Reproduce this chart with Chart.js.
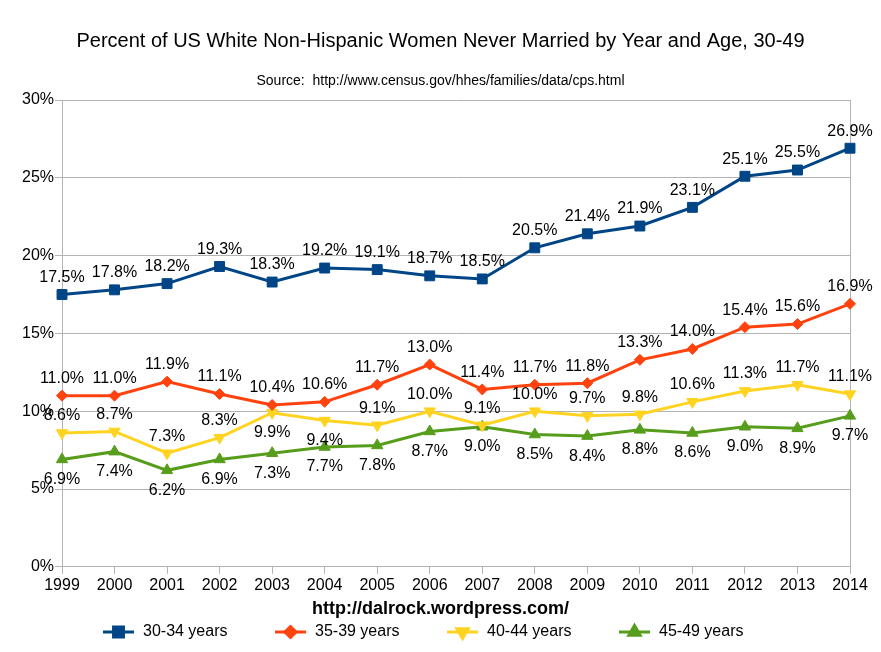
<!DOCTYPE html>
<html>
<head>
<meta charset="utf-8">
<script src="https://cdn.jsdelivr.net/npm/chart.js@4"></script>
<style>
html, body { margin: 0; padding: 0; background: #fff; }
</style>
</head>
<body>
<canvas id="myChart" width="881" height="652"></canvas>
<script>
// données (en %)
const years = ['1999', '2000', '2001', '2002', '2003', '2004', '2005', '2006',
               '2007', '2008', '2009', '2010', '2011', '2012', '2013', '2014'];
const age3034 = [17.5, 17.8, 18.2, 19.3, 18.3, 19.2, 19.1, 18.7, 18.5, 20.5, 21.4, 21.9, 23.1, 25.1, 25.5, 26.9];
const age3539 = [11.0, 11.0, 11.9, 11.1, 10.4, 10.6, 11.7, 13.0, 11.4, 11.7, 11.8, 13.3, 14.0, 15.4, 15.6, 16.9];
const age4044 = [8.6, 8.7, 7.3, 8.3, 9.9, 9.4, 9.1, 10.0, 9.1, 10.0, 9.7, 9.8, 10.6, 11.3, 11.7, 11.1];
const age4549 = [6.9, 7.4, 6.2, 6.9, 7.3, 7.7, 7.8, 8.7, 9.0, 8.5, 8.4, 8.8, 8.6, 9.0, 8.9, 9.7];
const seriesNames = ['30-34 years', '35-39 years', '40-44 years', '45-49 years'];

const FONT = '"Liberation Sans", Arial, sans-serif';
Chart.defaults.font.family = FONT;
Chart.defaults.color = '#000';

const colors = ['#004586', '#ff420e', '#ffd320', '#579d1c'];
const markers = [
    { pointStyle: 'rect', radius: 7, rotation: 0 },
    { pointStyle: 'rectRot', radius: 5.5, rotation: 0 },
    { pointStyle: 'triangle', radius: 6.5, rotation: 180 },
    { pointStyle: 'triangle', radius: 6.5, rotation: 0 }
];
// étiquettes placées sous le point (index des années)
const labelsBelow = [[], [], [4, 5], 'all'];
const gridColor = '#b3b3b3';

function makeDataset(i, values) {
    return {
        label: seriesNames[i],
        data: values,
        borderColor: colors[i],
        backgroundColor: colors[i],
        borderWidth: 3,
        pointStyle: markers[i].pointStyle,
        pointRadius: markers[i].radius,
        pointRotation: markers[i].rotation,
        pointBorderWidth: 1,
        pointBackgroundColor: colors[i],
        pointBorderColor: colors[i],
        tension: 0
    };
}

// valeurs au-dessus/au-dessous des points
const pointLabels = {
    id: 'pointLabels',
    afterDatasetsDraw(chart) {
        const ctx = chart.ctx;
        ctx.save();
        ctx.font = '16px ' + FONT;
        ctx.fillStyle = '#000';
        ctx.textAlign = 'center';
        ctx.textBaseline = 'middle';
        chart.data.datasets.forEach((ds, i) => {
            const meta = chart.getDatasetMeta(i);
            meta.data.forEach((pt, j) => {
                const below = labelsBelow[i] === 'all' || labelsBelow[i].includes(j);
                ctx.fillText(ds.data[j].toFixed(1) + '%', pt.x, pt.y + (below ? 20 : -17));
            });
        });
        ctx.restore();
    }
};

// titre de l'axe X + légende
const footer = {
    id: 'footer',
    afterDraw(chart) {
        const ctx = chart.ctx;
        ctx.save();
        ctx.fillStyle = '#000';
        ctx.textAlign = 'center';
        ctx.textBaseline = 'middle';
        ctx.font = 'bold 18px ' + FONT;
        ctx.fillText('http://dalrock.wordpress.com/', chart.width / 2, 609);

        const y = 632;
        ctx.font = '16px ' + FONT;
        ctx.textAlign = 'left';
        seriesNames.forEach((name, i) => {
            const x0 = 103 + i * 172;
            ctx.strokeStyle = colors[i];
            ctx.lineWidth = 3;
            ctx.beginPath();
            ctx.moveTo(x0, y);
            ctx.lineTo(x0 + 31, y);
            ctx.stroke();
            ctx.fillStyle = colors[i];
            ctx.strokeStyle = colors[i];
            Chart.helpers.drawPoint(ctx, {
                pointStyle: markers[i].pointStyle,
                radius: markers[i].radius,
                rotation: markers[i].rotation,
                borderWidth: 1
            }, x0 + 15.5, y);
            ctx.fillStyle = '#000';
            ctx.fillText(name, x0 + 40, y);
        });
        ctx.restore();
    }
};

new Chart(document.getElementById('myChart'), {
    type: 'line',
    data: {
        labels: years,
        datasets: [
            makeDataset(0, age3034),
            makeDataset(1, age3539),
            makeDataset(2, age4044),
            makeDataset(3, age4549)
        ]
    },
    options: {
        responsive: false,
        animation: false,
        layout: { padding: { left: 0, right: 0, top: 0, bottom: 55 } },
        plugins: {
            legend: { display: false },
            tooltip: { enabled: false },
            title: {
                display: true,
                text: 'Percent of US White Non-Hispanic Women Never Married by Year and Age, 30-49',
                font: { size: 20, weight: 'normal' },
                color: '#000',
                padding: { top: 29, bottom: 19.6 }
            },
            subtitle: {
                display: true,
                text: 'Source:  http://www.census.gov/hhes/families/data/cps.html',
                font: { size: 14, weight: 'normal' },
                color: '#000',
                padding: { top: 0, bottom: 10.6 }
            }
        },
        scales: {
            x: {
                grid: {
                    color: c => (c.index === 0 || c.index === years.length - 1) ? gridColor : 'transparent',
                    tickColor: gridColor,
                    tickLength: 7
                },
                border: { color: gridColor },
                ticks: { font: { size: 16 }, padding: 2, maxRotation: 0, autoSkip: false },
                afterFit(scale) { scale.paddingRight = 31; scale.paddingLeft = 0; }
            },
            y: {
                min: 0,
                max: 30,
                grid: { color: gridColor, tickColor: gridColor, tickLength: 7 },
                border: { color: gridColor },
                ticks: {
                    stepSize: 5,
                    font: { size: 16 },
                    padding: 1,
                    callback: v => v + '%'
                },
                afterFit(scale) { scale.width = 62; }
            }
        }
    },
    plugins: [pointLabels, footer]
});
</script>
</body>
</html>
